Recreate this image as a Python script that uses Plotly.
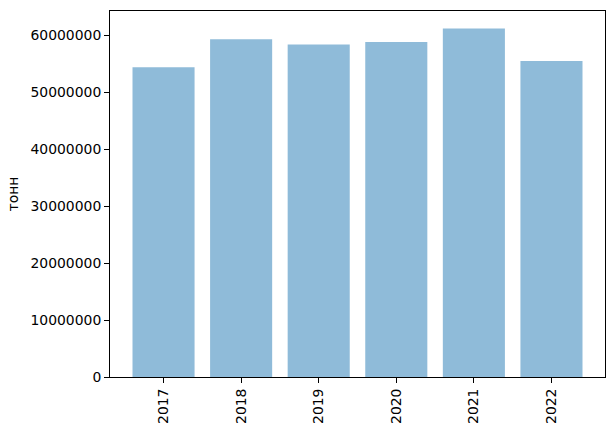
import plotly.graph_objects as go

years = ["2017", "2018", "2019", "2020", "2021", "2022"]
values = [54400000, 59300000, 58400000, 58800000, 61200000, 55500000]
positions = list(range(len(years)))

fig = go.Figure(go.Bar(
    x=positions, y=values, width=0.8,
    marker=dict(color="rgba(31,119,180,0.5)", line=dict(width=0)),
))

axis_common = dict(
    showline=True, linecolor="black", linewidth=1, mirror=True,
    ticks="outside", tickcolor="black", ticklen=5, tickwidth=1,
    showgrid=False, zeroline=False,
    tickfont=dict(family="DejaVu Sans", size=13.9, color="black"),
)

fig.update_layout(
    width=616, height=434,
    margin=dict(l=110, r=10, t=10, b=55),
    plot_bgcolor="white", paper_bgcolor="white",
    showlegend=False,
    xaxis=dict(range=[-0.69, 5.69], tickvals=positions, ticktext=years,
               tickangle=-90, **axis_common),
    yaxis=dict(range=[0, 64260000], tickvals=[0, 10000000, 20000000, 30000000, 40000000, 50000000, 60000000],
               tickformat="d",
               title=dict(text="тонн", standoff=8,
                          font=dict(family="DejaVu Sans", size=13.9, color="black")),
               **axis_common),
)

fig.write_html("out.html", config={"displayModeBar": False},
               post_script="document.body.style.margin='0';document.body.style.overflow='hidden';")
